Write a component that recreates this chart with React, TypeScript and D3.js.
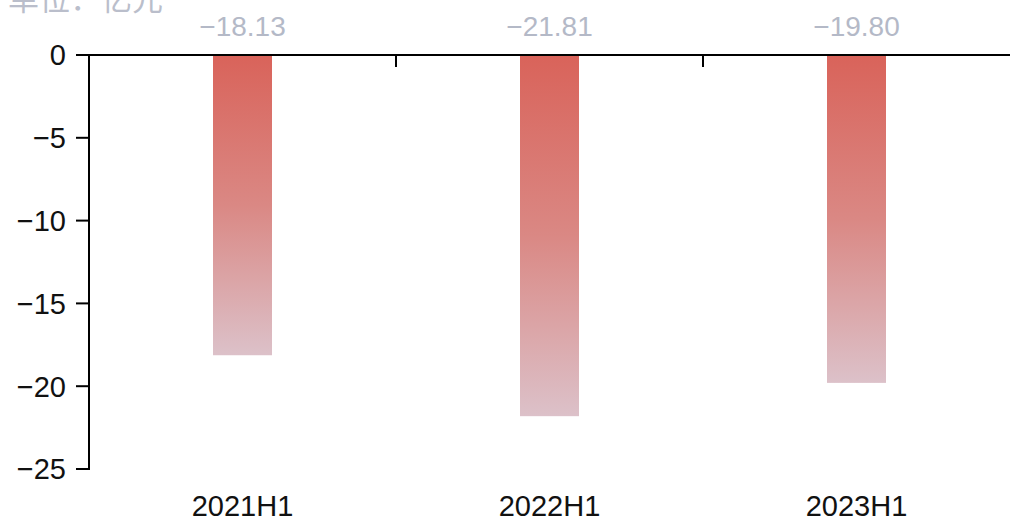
import React from "react";
import * as d3 from "d3";

const categories = ["2021H1", "2022H1", "2023H1"];
const values = [-18.13, -21.81, -19.8];
const yTicks = [0, -5, -10, -15, -20, -25];
const unitLabel = "单位：亿元";

const W = 1010;
const H = 523;
const x0 = 89;
const x1 = 1010;
const yTop = 55;
const yBottom = 469;

export default function App() {
  const x = d3.scaleBand<string>().domain(categories).range([x0, x1]).padding(0);
  const y = d3.scaleLinear().domain([0, -25]).range([yTop, yBottom]);
  const barW = 59;
  const font = "'Liberation Sans', Arial, Helvetica, sans-serif";
  const boundaries = categories.slice(1).map((c) => x(c) as number);

  return (
    <svg
      width={W}
      height={H}
      style={{ position: "absolute", left: 0, top: 0, display: "block" }}
    >
      <defs>
        <linearGradient id="barGrad" x1="0" y1="0" x2="0" y2="1">
          <stop offset="0%" stopColor="#d9635a" />
          <stop offset="50%" stopColor="#da8884" />
          <stop offset="100%" stopColor="#dcc1c9" />
        </linearGradient>
      </defs>
      <rect x={0} y={0} width={W} height={H} fill="#ffffff" />

      {/* unit label */}
      <text
        x={8}
        y={10}
        fontFamily="'Noto Sans CJK SC', sans-serif"
        fontSize={31}
        fill="#babecb"
      >
        {unitLabel}
      </text>

      {/* bars */}
      {categories.map((c, i) => {
        const cx = (x(c) as number) + x.bandwidth() / 2;
        const top = y(0);
        const bot = y(values[i]);
        return (
          <g key={c}>
            <rect
              x={cx - barW / 2}
              y={top}
              width={barW}
              height={bot - top}
              fill="url(#barGrad)"
            />
            <text
              x={cx}
              y={36}
              textAnchor="middle"
              fontFamily={font}
              fontSize={28}
              fill="#b4b9c7"
            >
              {d3.format(".2f")(values[i]).replace("-", "\u2212")}
            </text>
            <text
              x={cx}
              y={516}
              textAnchor="middle"
              fontFamily={font}
              fontSize={29}
              fill="#111111"
            >
              {c}
            </text>
          </g>
        );
      })}

      {/* x axis (at zero, top) */}
      <line x1={x0} x2={x1} y1={y(0)} y2={y(0)} stroke="#000" strokeWidth={2} />
      {boundaries.map((b) => (
        <line key={b} x1={b} x2={b} y1={y(0)} y2={y(0) + 12} stroke="#000" strokeWidth={2} />
      ))}

      {/* y axis */}
      <line x1={x0} x2={x0} y1={y(0) - 1} y2={y(-25) + 1} stroke="#000" strokeWidth={2} />
      {yTicks.map((t) => (
        <g key={t}>
          <line x1={x0 - 13} x2={x0} y1={y(t)} y2={y(t)} stroke="#000" strokeWidth={2} />
          <text
            x={x0 - 23}
            y={y(t)}
            dy="0.36em"
            textAnchor="end"
            fontFamily={font}
            fontSize={29}
            fill="#111111"
          >
            {String(t).replace("-", "\u2212")}
          </text>
        </g>
      ))}
    </svg>
  );
}
